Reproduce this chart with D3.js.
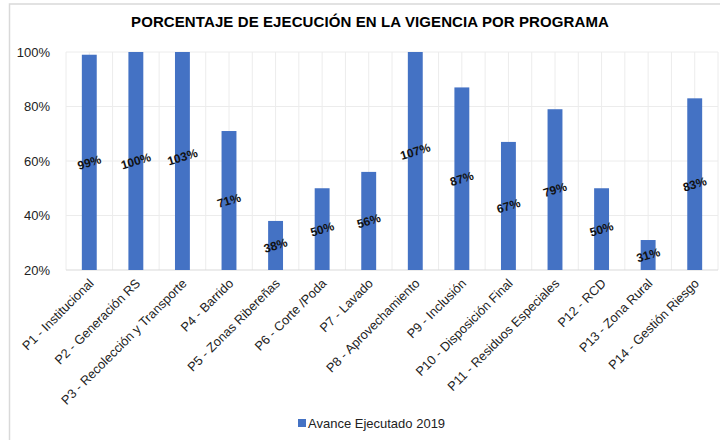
<!DOCTYPE html>
<html>
<head>
<meta charset="utf-8">
<script src="https://cdn.jsdelivr.net/npm/d3@7"></script>
<style>
  body { margin: 0; background: #fff; }
  svg { display: block; font-family: "Liberation Sans", Arial, sans-serif; }
</style>
</head>
<body>
<svg id="chart" width="720" height="440"></svg>
<script>
const programs = [
  "P1 - Institucional", "P2 - Generación RS", "P3 - Recolección y Transporte",
  "P4 - Barrido", "P5 - Zonas Ribereñas", "P6 - Corte /Poda", "P7 - Lavado",
  "P8 - Aprovechamiento", "P9 - Inclusión", "P10 - Disposición Final",
  "P11 - Residuos Especiales", "P12 - RCD", "P13 - Zona Rural", "P14 - Gestión Riesgo"
];
const avance2019 = [99, 100, 103, 71, 38, 50, 56, 107, 87, 67, 79, 50, 31, 83];
const yTicks = [20, 40, 60, 80, 100];
const seriesName = "Avance Ejecutado 2019";
const title = "PORCENTAJE DE EJECUCIÓN EN LA VIGENCIA POR PROGRAMA";

const barColor = "#4472C4";
const svg = d3.select("#chart");
const margin = { top: 52, right: 2, bottom: 170, left: 66 };
const width = 720, height = 440;

// frame (right/bottom edges fall outside the picture)
svg.append("rect")
  .attr("x", 9.5).attr("y", 4)
  .attr("width", 740).attr("height", 460)
  .attr("fill", "#fff").attr("stroke", "#d9d9d9").attr("stroke-width", 1.5);

svg.append("text")
  .attr("x", 370).attr("y", 27)
  .attr("text-anchor", "middle")
  .attr("font-size", 15).attr("font-weight", "bold")
  .attr("letter-spacing", 0.1)
  .text(title);

const x = d3.scaleBand()
  .domain(programs)
  .range([margin.left, width - margin.right])
  .paddingInner(0.68).paddingOuter(0.34);

const y = d3.scaleLinear()
  .domain([20, 100])
  .range([height - margin.bottom, margin.top]);

const step = x.step();
const x0 = margin.left;

// vertical gridlines at category edges and centres
const vLines = d3.range(programs.length * 2 + 1).map(i => x0 + i * step / 2);
svg.append("g")
  .selectAll("line")
  .data(vLines)
  .join("line")
  .attr("x1", d => d).attr("x2", d => d)
  .attr("y1", y(100)).attr("y2", y(20))
  .attr("stroke", "#ececec").attr("stroke-width", 1);

// horizontal gridlines
svg.append("g")
  .selectAll("line")
  .data(yTicks)
  .join("line")
  .attr("x1", x0).attr("x2", width - margin.right)
  .attr("y1", d => y(d)).attr("y2", d => y(d))
  .attr("stroke", d => d === 20 ? "#d9d9d9" : "#ececec")
  .attr("stroke-width", 1);

// y axis labels
svg.append("g")
  .attr("transform", `translate(${x0 - 13},0)`)
  .call(d3.axisLeft(y).tickValues(yTicks).tickFormat(d => d + "%").tickSize(0))
  .call(g => g.select(".domain").remove())
  .selectAll("text")
  .attr("font-size", 13)
  .attr("font-family", "Liberation Sans, Arial, sans-serif")
  .attr("fill", "#222");

// bars, clipped to plot area
svg.append("clipPath").attr("id", "plot")
  .append("rect")
  .attr("x", x0).attr("y", y(100))
  .attr("width", width - margin.right - x0).attr("height", y(20) - y(100));

svg.append("g")
  .attr("clip-path", "url(#plot)")
  .selectAll("rect")
  .data(avance2019)
  .join("rect")
  .attr("x", (d, i) => x(programs[i]))
  .attr("y", d => y(d))
  .attr("width", x.bandwidth())
  .attr("height", d => y(20) - y(d))
  .attr("fill", barColor);

// value labels
svg.append("g")
  .selectAll("text")
  .data(avance2019)
  .join("text")
  .attr("transform", (d, i) => {
    const cx = x(programs[i]) + x.bandwidth() / 2;
    const cy = (y(d) + y(20)) / 2;
    return `translate(${cx},${cy}) rotate(-17)`;
  })
  .attr("text-anchor", "middle")
  .attr("dy", "0.35em")
  .attr("font-size", 12).attr("font-weight", "bold")
  .attr("fill", "#111")
  .text(d => d + "%");

// category labels
svg.append("g")
  .selectAll("text")
  .data(programs)
  .join("text")
  .attr("transform", d => `translate(${x(d) + x.bandwidth() / 2 + 2},${y(20) + 11}) rotate(-45)`)
  .attr("text-anchor", "end")
  .attr("dy", "0.35em")
  .attr("font-size", 12.8)
  .attr("fill", "#222")
  .text(d => d);

// legend
const legend = svg.append("g").attr("transform", "translate(298,419)");
legend.append("rect").attr("width", 8).attr("height", 8).attr("fill", barColor);
legend.append("text")
  .attr("x", 10).attr("y", 8.5)
  .attr("font-size", 13).attr("fill", "#222")
  .text(seriesName);
</script>
</body>
</html>
